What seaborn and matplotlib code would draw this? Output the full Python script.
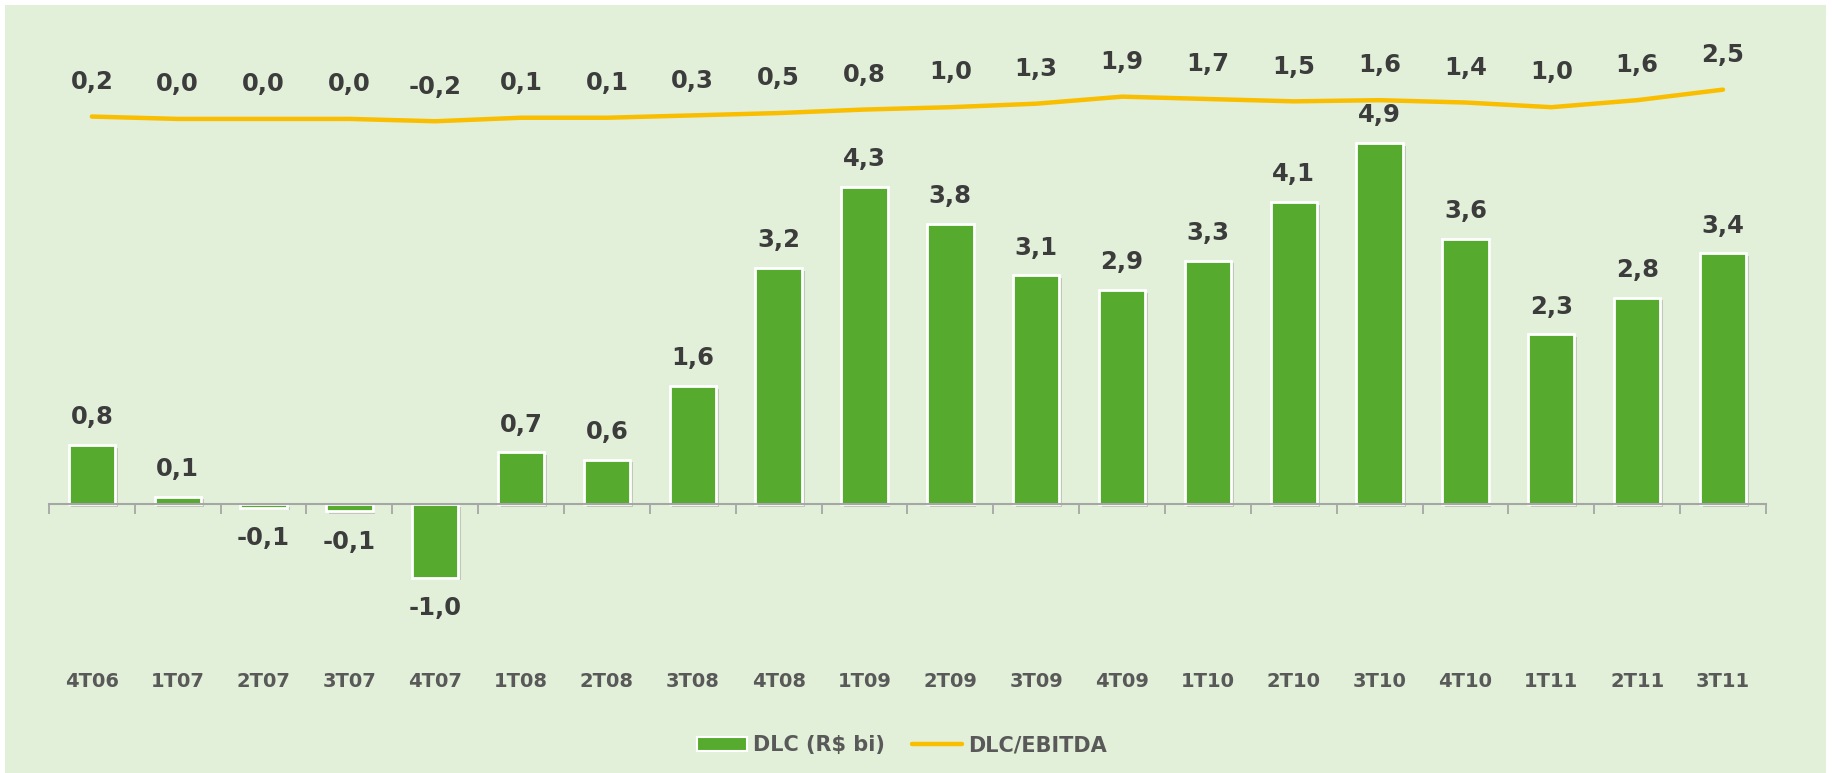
import numpy as np
import pandas as pd
import seaborn as sns
import matplotlib
matplotlib.use("Agg")
import matplotlib.pyplot as plt
from matplotlib.patches import Patch, Rectangle
from matplotlib.lines import Line2D
import matplotlib.patheffects as pe

# data
quarters = ["4T06", "1T07", "2T07", "3T07", "4T07", "1T08", "2T08", "3T08", "4T08", "1T09",
            "2T09", "3T09", "4T09", "1T10", "2T10", "3T10", "4T10", "1T11", "2T11", "3T11"]
dlc = [0.8, 0.1, -0.05, -0.1, -1.0, 0.7, 0.6, 1.6, 3.2, 4.3,
       3.8, 3.1, 2.9, 3.3, 4.1, 4.9, 3.6, 2.3, 2.8, 3.4]
dlc_ebitda = [0.2, 0.0, 0.0, 0.0, -0.2, 0.1, 0.1, 0.3, 0.5, 0.8,
              1.0, 1.3, 1.9, 1.7, 1.5, 1.6, 1.4, 1.0, 1.6, 2.5]

BAR = "#56AB2F"
LINE = "#F9BE00"
BG = "#E2F0D9"
TXT = "#3C3C3C"


def br(v):
    return f"{v:.1f}".replace(".", ",")


sns.set_style("white")
plt.rcParams["font.family"] = ["DejaVu Sans"]

df = pd.DataFrame({"q": quarters, "dlc": dlc, "ratio": dlc_ebitda})
df["pos"] = range(len(df))

fig = plt.figure(figsize=(18.33, 7.73), dpi=100, facecolor="white")
fig.add_artist(Rectangle((0.003, 0), 0.993, 0.993, transform=fig.transFigure,
                         facecolor=BG, edgecolor="none", zorder=-10))

ax = fig.add_axes([0.0267, 0.198, 0.9367, 0.7245])
ax.set_facecolor("none")

sns.barplot(data=df, x="q", y="dlc", color=BAR, saturation=1, width=0.54,
            edgecolor="white", linewidth=2, ax=ax)
for bar in ax.patches:
    bar.set_path_effects([pe.SimplePatchShadow(offset=(2, -2), shadow_rgbFace="#808080", alpha=0.35),
                          pe.Normal()])

ax.set_xlim(-0.5, len(quarters) - 0.5)
ax.set_ylim(-1.574, 6.024)

for i, v in enumerate(dlc):
    off = 20 if v > 0 else -22
    ax.annotate(br(v), (i, v), xytext=(0, off), textcoords="offset points",
                ha="center", va="center", fontsize=17.5, fontweight="bold", color=TXT)

# axis at zero, labels pushed to the bottom
for s in ["top", "right", "left"]:
    ax.spines[s].set_visible(False)
ax.spines["bottom"].set_position(("data", 0))
ax.spines["bottom"].set_color("#A6A6A6")
ax.spines["bottom"].set_linewidth(1.5)
ax.set_yticks([])
ax.set_xlabel("")
ax.set_ylabel("")
ax.set_xticks(np.arange(-0.5, len(quarters)), minor=True)
ax.tick_params(axis="x", which="minor", bottom=True, length=7, width=1.3,
               color="#A6A6A6", direction="out")
ax.tick_params(axis="x", which="major", bottom=True, length=0, pad=121,
               labelsize=14, labelcolor="#595959")
for lab in ax.get_xticklabels():
    lab.set_fontweight("bold")

ax2 = ax.twinx()
ax2.set_facecolor("none")
sns.lineplot(data=df, x="pos", y="ratio", color=LINE, linewidth=3.2, ax=ax2,
             solid_capstyle="round")
ax2.set_ylim(-42.8, 5.04)
ax2.set_xlim(-0.5, len(quarters) - 0.5)
for i, v in enumerate(dlc_ebitda):
    ax2.annotate(br(v), (i, v), xytext=(0, 25), textcoords="offset points",
                 ha="center", va="center", fontsize=17.5, fontweight="bold", color=TXT)
ax2.axis("off")

handles = [Patch(facecolor=BAR, edgecolor="white", linewidth=1.5),
           Line2D([0], [0], color=LINE, linewidth=3.2)]
fig.legend(handles, ["DLC (R$ bi)", "DLC/EBITDA"], loc="center", bbox_to_anchor=(0.492, 0.036),
           ncol=2, frameon=False, handlelength=2.4, handletextpad=0.3, columnspacing=1.3,
           prop={"size": 15, "weight": "bold"}, labelcolor="#595959")

fig.savefig("out.png", dpi=100, facecolor=fig.get_facecolor())
